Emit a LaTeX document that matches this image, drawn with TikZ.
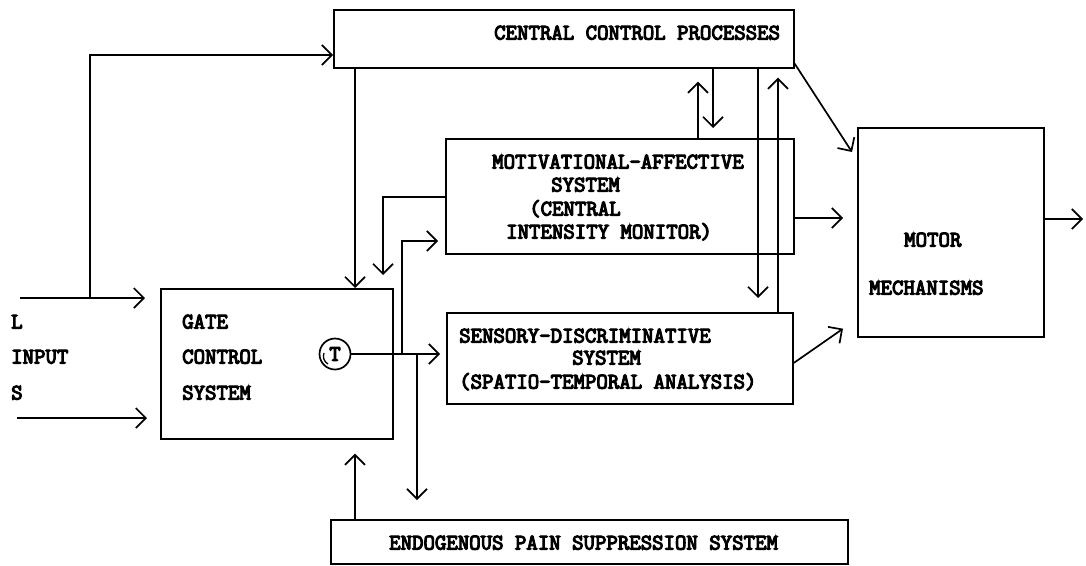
\documentclass[tikz,border=0pt]{standalone}
\usepackage{fontspec}
\newfontfamily\tw{Latin Modern Mono}[FakeBold=5]
\usetikzlibrary{arrows.meta,calc}
\begin{document}
\begin{tikzpicture}[x=1pt,y=-1pt,
  box/.style={draw,line width=1.7pt,inner sep=0pt,anchor=north west},
  lbl/.style={anchor=base west,inner sep=0pt,font=\tw\fontsize{22.2}{24}\selectfont},
  arr/.style={line width=1.7pt,-{Straight Barb[length=10pt,width=20pt]}},
  ln/.style={line width=1.7pt}]
\useasboundingbox (0,0) rectangle (1086,565);
% boxes
\node[box,minimum width=460pt,minimum height=58pt] (ccp) at (333,9) {};
\node[box,minimum width=348pt,minimum height=115pt] (mot) at (445,138) {};
\node[box,minimum width=232pt,minimum height=150pt] (gate) at (160,288) {};
\node[box,minimum width=346pt,minimum height=91pt] (sen) at (446,312) {};
\node[box,minimum width=186pt,minimum height=209pt] (motor) at (857,127) {};
\node[box,minimum width=517pt,minimum height=44pt] (endo) at (330,519) {};
\node[draw,circle,line width=1.7pt,minimum size=31pt,inner sep=0pt,
      font=\tw\fontsize{22.2}{24}\selectfont] (t) at (335,354) {T};
\draw[line width=1.3pt] ($(t.center)+(-11,-1)$) to[bend right=40] ($(t.center)+(-7,10)$);
% texts
\node[lbl] (tccp) at (494,39.5) {CENTRAL CONTROL PROCESSES};
\node[lbl] (tm1) at (492,168.5) {MOTIVATIONAL-AFFECTIVE};
\node[lbl] (tm2) at (551,191.5) {SYSTEM};
\node[lbl] (tm3) at (529,215.5) {(CENTRAL};
\node[lbl] (tm4) at (506,238.5) {INTENSITY MONITOR)};
\node[lbl] (ts1) at (459,342.5) {SENSORY-DISCRIMINATIVE};
\node[lbl] (ts2) at (572,364.5) {SYSTEM};
\node[lbl] (ts3) at (459,388.5) {(SPATIO-TEMPORAL ANALYSIS)};
\node[lbl] (tg1) at (182,328.5) {GATE};
\node[lbl] (tg2) at (182,363.5) {CONTROL};
\node[lbl] (tg3) at (182,399.5) {SYSTEM};
\node[lbl] (ti1) at (11,328.5) {L};
\node[lbl] (ti2) at (11,363.5) {INPUT};
\node[lbl] (ti3) at (11,399.5) {S};
\node[lbl] (tmo1) at (904,246.5) {MOTOR};
\node[lbl] (tmo2) at (869,294.5) {MECHANISMS};
\node[lbl] (ten) at (389,549.5) {ENDOGENOUS PAIN SUPPRESSION SYSTEM};
% free ends
\coordinate (inA) at (20,298);
\coordinate (inB) at (17,418);
\coordinate (br) at (90,298);
\coordinate (j1) at (402,354);
\coordinate (j2) at (417,354);
\coordinate (out) at (1083,219);
% connectors
\draw[arr,shorten >=15pt] (inA) -- (inA -| gate.west);
\draw[arr,shorten >=13pt] (inB) -- (inB -| gate.west);
\draw[arr] (br) |- ($(ccp.north west)+(0,46)$);
\draw[arr] ($(ccp.south west)+(22,0)$) -- ($(gate.north west)+(195,0)$);
\draw[arr,shorten >=13pt] ($(mot.north west)+(0,59)$) -| ($(gate.north west)+(223,0)$);
\draw[arr,shorten >=6pt] (t.east) -- (t.east -| sen.west);
\draw[arr,shorten >=7pt] (j1) |- ($(mot.north west)+(0,103)$);
\draw[arr,shorten >=19pt] (j2) -- (j2 |- endo.north);
\draw[arr,shorten >=14pt] ($(endo.north west)+(25,0)$) -- ($(gate.south west)+(195,0)$);
\draw[arr,shorten >=13pt] ($(mot.north west)+(253,0)$) -- ($(ccp.south west)+(365,0)$);
\draw[arr,shorten >=10pt] ($(ccp.south west)+(380,0)$) -- ($(mot.north west)+(268,0)$);
\draw[arr,shorten >=14pt] ($(ccp.south west)+(425,0)$) -- ($(sen.north west)+(312,0)$);
\draw[arr,shorten >=9pt] ($(sen.north west)+(332,0)$) -- ($(ccp.south west)+(445,0)$);
\draw[arr] ($(ccp.south east)+(0,-5)$) -- ($(motor.north west)+(-5,25)$);
\draw[arr,shorten >=14pt] ($(mot.north east)+(0,80)$) -- ($(motor.north west)+(0,91)$);
\draw[arr] ($(sen.north east)+(0,51)$) -- ($(motor.south west)+(-14,-9)$);
\draw[arr] ($(motor.north east)+(0,92)$) -- (out);
\end{tikzpicture}
\end{document}
